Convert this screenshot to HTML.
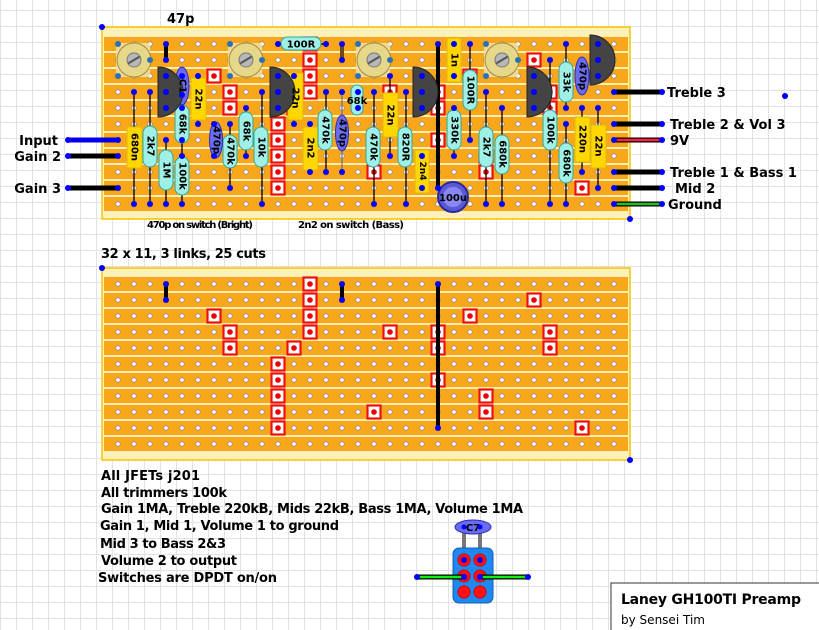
<!DOCTYPE html>
<html><head><meta charset="utf-8"><style>
html,body{margin:0;padding:0;background:#fff;}
svg{display:block;}
text{font-family:"DejaVu Sans","Liberation Sans",sans-serif;font-weight:bold;fill:#000;}
.cl{font-size:10px;}
</style></head><body>
<svg id="s" width="819" height="630" viewBox="0 0 819 630" xmlns="http://www.w3.org/2000/svg">
<g id="grid"></g>
<g id="base"></g>
<g id="comps" stroke-linecap="round">
<!-- links top -->
<line x1="166" y1="44" x2="166" y2="60" stroke="#000" stroke-width="4"/>
<line x1="342" y1="44" x2="342" y2="60" stroke="#6b4a1a" stroke-width="4"/>
<line x1="438" y1="44" x2="438" y2="188" stroke="#000" stroke-width="4"/>
<!-- top 100R horizontal -->
<line x1="278" y1="44" x2="326" y2="44" stroke="#000" stroke-width="1.5"/>
<rect x="281" y="37" width="40" height="13" rx="6.5" fill="#9ff0e6" stroke="#36a59a"/>
<text x="301" y="47.5" font-size="10" text-anchor="middle">100R</text>
<!-- trimmers -->
<g id="trims"></g>
<!-- lead lines -->
<g stroke="#000" stroke-width="1.3">
<line x1="134" y1="92" x2="134" y2="204"/><line x1="150" y1="92" x2="150" y2="204"/>
<line x1="166" y1="140" x2="166" y2="204"/>
<line x1="182" y1="76" x2="182" y2="204"/>
<line x1="198" y1="76" x2="198" y2="124"/>
<line x1="214" y1="124" x2="214" y2="156"/>
<line x1="230" y1="124" x2="230" y2="188"/>
<line x1="246" y1="108" x2="246" y2="156"/>
<line x1="262" y1="92" x2="262" y2="204"/>
<line x1="294" y1="76" x2="294" y2="124"/>
<line x1="310" y1="124" x2="310" y2="172"/>
<line x1="326" y1="92" x2="326" y2="172"/>
<line x1="342" y1="92" x2="342" y2="172" stroke="#777"/>
<line x1="358" y1="92" x2="358" y2="108"/>
<line x1="374" y1="92" x2="374" y2="204"/>
<line x1="390" y1="76" x2="390" y2="156"/>
<line x1="406" y1="92" x2="406" y2="204"/>
<line x1="422" y1="156" x2="422" y2="188"/>
<line x1="454" y1="44" x2="454" y2="76"/>
<line x1="454" y1="108" x2="454" y2="156"/>
<line x1="470" y1="44" x2="470" y2="140"/>
<line x1="486" y1="92" x2="486" y2="204"/>
<line x1="502" y1="108" x2="502" y2="204"/>
<line x1="550" y1="60" x2="550" y2="204"/>
<line x1="566" y1="44" x2="566" y2="108"/>
<line x1="566" y1="124" x2="566" y2="204"/>
<line x1="582" y1="108" x2="582" y2="172"/>
<line x1="598" y1="108" x2="598" y2="188"/>
</g>
<!-- caps yellow -->
<g fill="#ffd700" stroke="#e0b800">
<rect x="127" y="127" width="15" height="41"/>
<rect x="191" y="78" width="15" height="42"/>
<rect x="288" y="73" width="15" height="47"/>
<rect x="303" y="127" width="15" height="43"/>
<rect x="383" y="93" width="15" height="44"/>
<rect x="415" y="150" width="14" height="43"/>
<rect x="447" y="38" width="14" height="44"/>
<rect x="575" y="117" width="15" height="45"/>
<rect x="591" y="125" width="15" height="43"/>
</g>
<!-- resistors -->
<g fill="#9ff0e6" stroke="#36a59a">
<rect x="143" y="126" width="14" height="41" rx="7"/>
<rect x="159" y="150" width="14" height="40" rx="7"/>
<rect x="175" y="105" width="14" height="38" rx="7"/>
<rect x="175" y="157" width="14" height="38" rx="7"/>
<rect x="223" y="135" width="14" height="33" rx="7"/>
<rect x="239" y="112" width="14" height="38" rx="7"/>
<rect x="254" y="127" width="14" height="40" rx="7"/>
<rect x="318" y="110" width="14" height="40" rx="7"/>
<rect x="351" y="85" width="12" height="30" rx="6"/>
<rect x="366" y="127" width="14" height="40" rx="7"/>
<rect x="398" y="127" width="14" height="40" rx="7"/>
<rect x="447" y="110" width="14" height="40" rx="7"/>
<rect x="463" y="70" width="14" height="40" rx="7"/>
<rect x="479" y="127" width="14" height="40" rx="7"/>
<rect x="495" y="135" width="14" height="39" rx="7"/>
<rect x="543" y="110" width="14" height="40" rx="7"/>
<rect x="559" y="62" width="14" height="40" rx="7"/>
<rect x="559" y="143" width="14" height="40" rx="7"/>
</g>
<!-- blue ceramic/elec -->
<g fill="#6a6cf0" stroke="#2a2ac0">
<ellipse cx="182" cy="86" rx="7" ry="19"/>
<ellipse cx="216" cy="140" rx="6.5" ry="18"/>
<ellipse cx="342" cy="133" rx="6.5" ry="18"/>
<ellipse cx="582" cy="76" rx="7" ry="19"/>
</g>
<circle cx="453" cy="197" r="15" fill="#5a5ad8" stroke="#2a2a9a" stroke-width="2"/>
<circle cx="453" cy="197" r="10" fill="#8888f0"/>
<text x="453" y="201" font-size="10" text-anchor="middle">100u</text>
<!-- transistors -->
<g fill="#444" stroke="#222">
<path d="M158,67 A25,25 0 0 1 158,117 Z"/>
<path d="M270,67 A25,25 0 0 1 270,117 Z"/>
<path d="M413,67 A25,25 0 0 1 413,117 Z"/>
<path d="M527,67 A25,25 0 0 1 527,117 Z"/>
<path d="M590,35 A25,25 0 0 1 590,85 Z"/>
</g>
<!-- component labels -->
<g class="cl">
<text font-size="10" transform="translate(134,147) rotate(90)" text-anchor="middle" dominant-baseline="central">680n</text>
<text font-size="10" transform="translate(150,146) rotate(90)" text-anchor="middle" dominant-baseline="central">2k7</text>
<text font-size="10" transform="translate(166,170) rotate(90)" text-anchor="middle" dominant-baseline="central">1M</text>
<text font-size="10" transform="translate(182,86) rotate(90)" text-anchor="middle" dominant-baseline="central" fill="#ccd">C1</text>
<text font-size="10" transform="translate(182,124) rotate(90)" text-anchor="middle" dominant-baseline="central">68k</text>
<text font-size="10" transform="translate(182,176) rotate(90)" text-anchor="middle" dominant-baseline="central">100k</text>
<text font-size="10" transform="translate(198,99) rotate(90)" text-anchor="middle" dominant-baseline="central">22n</text>
<text font-size="10" transform="translate(216,140) rotate(90)" text-anchor="middle" dominant-baseline="central" fill="#ccd">470p</text>
<text font-size="10" transform="translate(230,151) rotate(90)" text-anchor="middle" dominant-baseline="central">470k</text>
<text font-size="10" transform="translate(246,131) rotate(90)" text-anchor="middle" dominant-baseline="central">68k</text>
<text font-size="10" transform="translate(261,147) rotate(90)" text-anchor="middle" dominant-baseline="central">10k</text>
<text font-size="10" transform="translate(295,98) rotate(90)" text-anchor="middle" dominant-baseline="central">22n</text>
<text font-size="10" transform="translate(310,148) rotate(90)" text-anchor="middle" dominant-baseline="central">2n2</text>
<text font-size="10" transform="translate(325,130) rotate(90)" text-anchor="middle" dominant-baseline="central">470k</text>
<text font-size="10" transform="translate(342,133) rotate(90)" text-anchor="middle" dominant-baseline="central" fill="#ccd">470p</text>
<text font-size="10" x="357" y="104" text-anchor="middle">68k</text>
<text font-size="10" transform="translate(373,147) rotate(90)" text-anchor="middle" dominant-baseline="central">470k</text>
<text font-size="10" transform="translate(390,115) rotate(90)" text-anchor="middle" dominant-baseline="central">22n</text>
<text font-size="10" transform="translate(405,147) rotate(90)" text-anchor="middle" dominant-baseline="central">820R</text>
<text font-size="9" transform="translate(422,171) rotate(90)" text-anchor="middle" dominant-baseline="central">2n4</text>
<text font-size="10" transform="translate(454,60) rotate(90)" text-anchor="middle" dominant-baseline="central">1n</text>
<text font-size="10" transform="translate(454,130) rotate(90)" text-anchor="middle" dominant-baseline="central">330k</text>
<text font-size="10" transform="translate(470,90) rotate(90)" text-anchor="middle" dominant-baseline="central">100R</text>
<text font-size="10" transform="translate(486,147) rotate(90)" text-anchor="middle" dominant-baseline="central">2k7</text>
<text font-size="10" transform="translate(502,154) rotate(90)" text-anchor="middle" dominant-baseline="central">680k</text>
<text font-size="10" transform="translate(550,130) rotate(90)" text-anchor="middle" dominant-baseline="central">100k</text>
<text font-size="10" transform="translate(566,82) rotate(90)" text-anchor="middle" dominant-baseline="central">33k</text>
<text font-size="10" transform="translate(566,163) rotate(90)" text-anchor="middle" dominant-baseline="central">680k</text>
<text font-size="10" transform="translate(582,76) rotate(90)" text-anchor="middle" dominant-baseline="central" fill="#ccd">470p</text>
<text font-size="10" transform="translate(582,139) rotate(90)" text-anchor="middle" dominant-baseline="central">220n</text>
<text font-size="10" transform="translate(598,146) rotate(90)" text-anchor="middle" dominant-baseline="central">22n</text>
</g>
<!-- wires -->
<g stroke-width="5">
<line x1="68" y1="140" x2="118" y2="140" stroke="#0000ee"/>
<line x1="68" y1="156" x2="118" y2="156" stroke="#000"/>
<line x1="68" y1="188" x2="118" y2="188" stroke="#000"/>
<line x1="614" y1="92" x2="662" y2="92" stroke="#000"/>
<line x1="614" y1="124" x2="662" y2="124" stroke="#000"/>
<line x1="614" y1="140" x2="662" y2="140" stroke="#000"/>
<line x1="614" y1="172" x2="662" y2="172" stroke="#000"/>
<line x1="614" y1="188" x2="662" y2="188" stroke="#000"/>
<line x1="614" y1="204" x2="662" y2="204" stroke="#000"/>
</g>
<line x1="615" y1="140" x2="661" y2="140" stroke="#ff2040" stroke-width="2.5"/>
<line x1="615" y1="204" x2="661" y2="204" stroke="#20c020" stroke-width="2.5"/>
<g id="dots" fill="#0000ff"></g>
<!-- switch -->
<line x1="464" y1="530" x2="464" y2="560" stroke="#777" stroke-width="4"/>
<line x1="480" y1="530" x2="480" y2="560" stroke="#777" stroke-width="4"/>
<ellipse cx="473" cy="527" rx="18" ry="7" fill="#6a6cf0" stroke="#2a2ac0"/>
<text x="473" y="531" font-size="10" text-anchor="middle" fill="#dde">C7</text>
<rect x="453" y="548" width="40" height="55" rx="6" fill="#1e88f0" stroke="#1060b0"/>
<g fill="#ff1010" stroke="#d00">
<circle cx="464" cy="560" r="6"/><circle cx="480" cy="560" r="6"/>
<circle cx="464" cy="576" r="6"/><circle cx="480" cy="576" r="6"/>
<circle cx="464" cy="592" r="6"/><circle cx="480" cy="592" r="6"/>
</g>
<line x1="417" y1="577" x2="464" y2="577" stroke="#000" stroke-width="5"/>
<line x1="480" y1="577" x2="528" y2="577" stroke="#000" stroke-width="5"/>
<line x1="418" y1="577" x2="463" y2="577" stroke="#10ee10" stroke-width="2.5"/>
<line x1="481" y1="577" x2="527" y2="577" stroke="#10ee10" stroke-width="2.5"/>
<g fill="#0000ff">
<circle cx="464" cy="527" r="2.5"/><circle cx="480" cy="527" r="2.5"/>
<circle cx="464" cy="560" r="3"/><circle cx="480" cy="560" r="3"/>
<circle cx="464" cy="577" r="3"/><circle cx="480" cy="577" r="3"/>
<circle cx="417" cy="577" r="3"/><circle cx="528" cy="577" r="3"/>
</g>
</g>
<!-- labels -->
<text x="167" y="23" font-size="13">47p</text>
<text x="58" y="145" font-size="13" text-anchor="end">Input</text>
<text x="61" y="161" font-size="13" text-anchor="end">Gain 2</text>
<text x="61" y="193" font-size="13" text-anchor="end">Gain 3</text>
<text x="667" y="97" font-size="13">Treble 3</text>
<text x="670" y="129" font-size="13">Treble 2 &amp; Vol 3</text>
<text x="670" y="145" font-size="13">9V</text>
<text x="670" y="177" font-size="13">Treble 1 &amp; Bass 1</text>
<text x="675" y="193" font-size="13">Mid 2</text>
<text x="668" y="209" font-size="13">Ground</text>
<text x="147" y="228" font-size="10" textLength="106">470p on switch (Bright)</text>
<text x="298" y="228" font-size="10" textLength="106">2n2 on switch (Bass)</text>
<text x="101" y="258" font-size="13" textLength="165">32 x 11, 3 links, 25 cuts</text>
<text x="101" y="480" font-size="13" textLength="99">All JFETs j201</text>
<text x="101" y="497" font-size="13" textLength="126">All trimmers 100k</text>
<text x="101" y="513" font-size="13" textLength="422">Gain 1MA, Treble 220kB, Mids 22kB, Bass 1MA, Volume 1MA</text>
<text x="100" y="530" font-size="13" textLength="239">Gain 1, Mid 1, Volume 1 to ground</text>
<text x="100" y="548" font-size="13" textLength="126">Mid 3 to Bass 2&amp;3</text>
<text x="101" y="565" font-size="13" textLength="136">Volume 2 to output</text>
<text x="98" y="582" font-size="13" textLength="179">Switches are DPDT on/on</text>
<rect x="611" y="583" width="220" height="60" fill="#fff" stroke="#333"/>
<text x="621" y="604" font-size="14" textLength="180">Laney GH100TI Preamp</text>
<text x="621" y="624" font-size="12" font-weight="normal" style="font-weight:normal" textLength="84">by Sensei Tim</text>
</svg>
<script>
(function(){
var NS="http://www.w3.org/2000/svg";
function el(p,t,a){var e=document.createElementNS(NS,t);for(var k in a)e.setAttribute(k,a[k]);p.appendChild(e);return e;}
var g=document.getElementById("grid");
for(var x=0;x<=819;x+=16)el(g,"line",{x1:x+.5,y1:0,x2:x+.5,y2:630,stroke:"#e2e2e2","stroke-width":1});
for(var y=10;y<=630;y+=16)el(g,"line",{x1:0,y1:y+.5,x2:819,y2:y+.5,stroke:"#e2e2e2","stroke-width":1});
var b=document.getElementById("base");
var cuts=[[12,0],[12,1],[12,2],[12,3],[6,2],[7,3],[7,4],[11,4],[10,5],[10,6],[10,7],[10,8],[10,9],[17,3],[16,8],[26,1],[22,2],[20,3],[20,4],[27,3],[27,4],[20,6],[23,7],[23,8],[29,9]];
[[27,44],[268,284]].forEach(function(B){
 var top=B[0],h0=B[1];
 el(b,"rect",{x:102,y:top,width:528,height:192,fill:"#fdf0b8",stroke:"#f5c400","stroke-width":1.5});
 for(var r=0;r<11;r++){
  el(b,"rect",{x:104,y:h0+16*r-7,width:524,height:14,fill:"#faa61a"});
  for(var c=0;c<32;c++)el(b,"circle",{cx:118+16*c,cy:h0+16*r,r:2.3,fill:"#fff",stroke:"#8a8a8a","stroke-width":0.8});
 }
 cuts.forEach(function(k){var cx=118+16*k[0],cy=h0+16*k[1];
  el(b,"rect",{x:cx-6.5,y:cy-6.5,width:13,height:13,fill:"#fff",stroke:"#ee1010","stroke-width":2.2});
  el(b,"circle",{cx:cx,cy:cy,r:2.8,fill:"#e00"});});
});
// bottom links
[[166,284,300],[342,284,300],[438,284,428]].forEach(function(l){
 el(b,"line",{x1:l[0],y1:l[1],x2:l[0],y2:l[2],stroke:"#000","stroke-width":4});
 el(b,"circle",{cx:l[0],cy:l[1],r:3,fill:"#00f"});el(b,"circle",{cx:l[0],cy:l[2],r:3,fill:"#00f"});
});
[[102,27],[630,219],[102,268],[630,460],[785,96]].forEach(function(p){el(b,"circle",{cx:p[0],cy:p[1],r:3,fill:"#00f"});});
// trimmers
var t=document.getElementById("trims");
[[0,134],[7,246],[15,374],[23,502]].forEach(function(T){
 var c=T[0],cx=T[1],cy=60;
 el(t,"rect",{x:cx-18,y:cy-17,width:34,height:34,fill:"#efe6b8",opacity:0.8});
 el(t,"circle",{cx:cx,cy:cy,r:17,fill:"#e7d889",stroke:"#9c8c3c","stroke-width":1});
 el(t,"circle",{cx:cx,cy:cy,r:7,fill:"#b8b8b8",stroke:"#777"});
 el(t,"line",{x1:cx-5,y1:cy+3,x2:cx+5,y2:cy-3,stroke:"#555","stroke-width":2});
 [[c,0],[c+2,1],[c,2]].forEach(function(p){el(t,"circle",{cx:118+16*p[0],cy:44+16*p[1],r:3,fill:"#2a70b8"});});
});
// pin dots
var d=document.getElementById("dots");
var pins=[[134,92],[134,204],[150,92],[150,204],[166,140],[166,204],[166,44],[166,60],[342,44],[342,60],[438,44],[438,188],
[182,76],[182,95],[182,108],[182,140],[182,156],[182,204],[198,76],[198,124],[214,124],[214,156],[230,124],[230,188],
[246,108],[246,156],[262,92],[262,204],[294,76],[294,124],[310,124],[310,172],[326,92],[326,172],[342,92],[342,172],
[358,92],[358,108],[374,92],[374,204],[390,76],[390,156],[406,92],[406,204],[422,156],[422,188],[454,44],[454,76],
[454,108],[454,156],[470,44],[470,140],[486,92],[486,204],[502,108],[502,204],[550,60],[550,204],[566,44],[566,108],
[566,124],[566,204],[582,108],[582,172],[598,108],[598,188],[278,44],[326,44],
[166,76],[166,92],[166,108],[278,76],[278,92],[278,108],[422,76],[422,92],[422,108],[534,76],[534,92],[534,108],[598,44],[598,60],[598,76],
[68,140],[118,140],[68,156],[118,156],[68,188],[118,188],
[614,92],[662,92],[614,124],[662,124],[614,140],[662,140],[614,172],[662,172],[614,188],[662,188],[614,204],[662,204]];
pins.forEach(function(p){el(d,"circle",{cx:p[0],cy:p[1],r:3});});
})();
</script>
</body></html>
